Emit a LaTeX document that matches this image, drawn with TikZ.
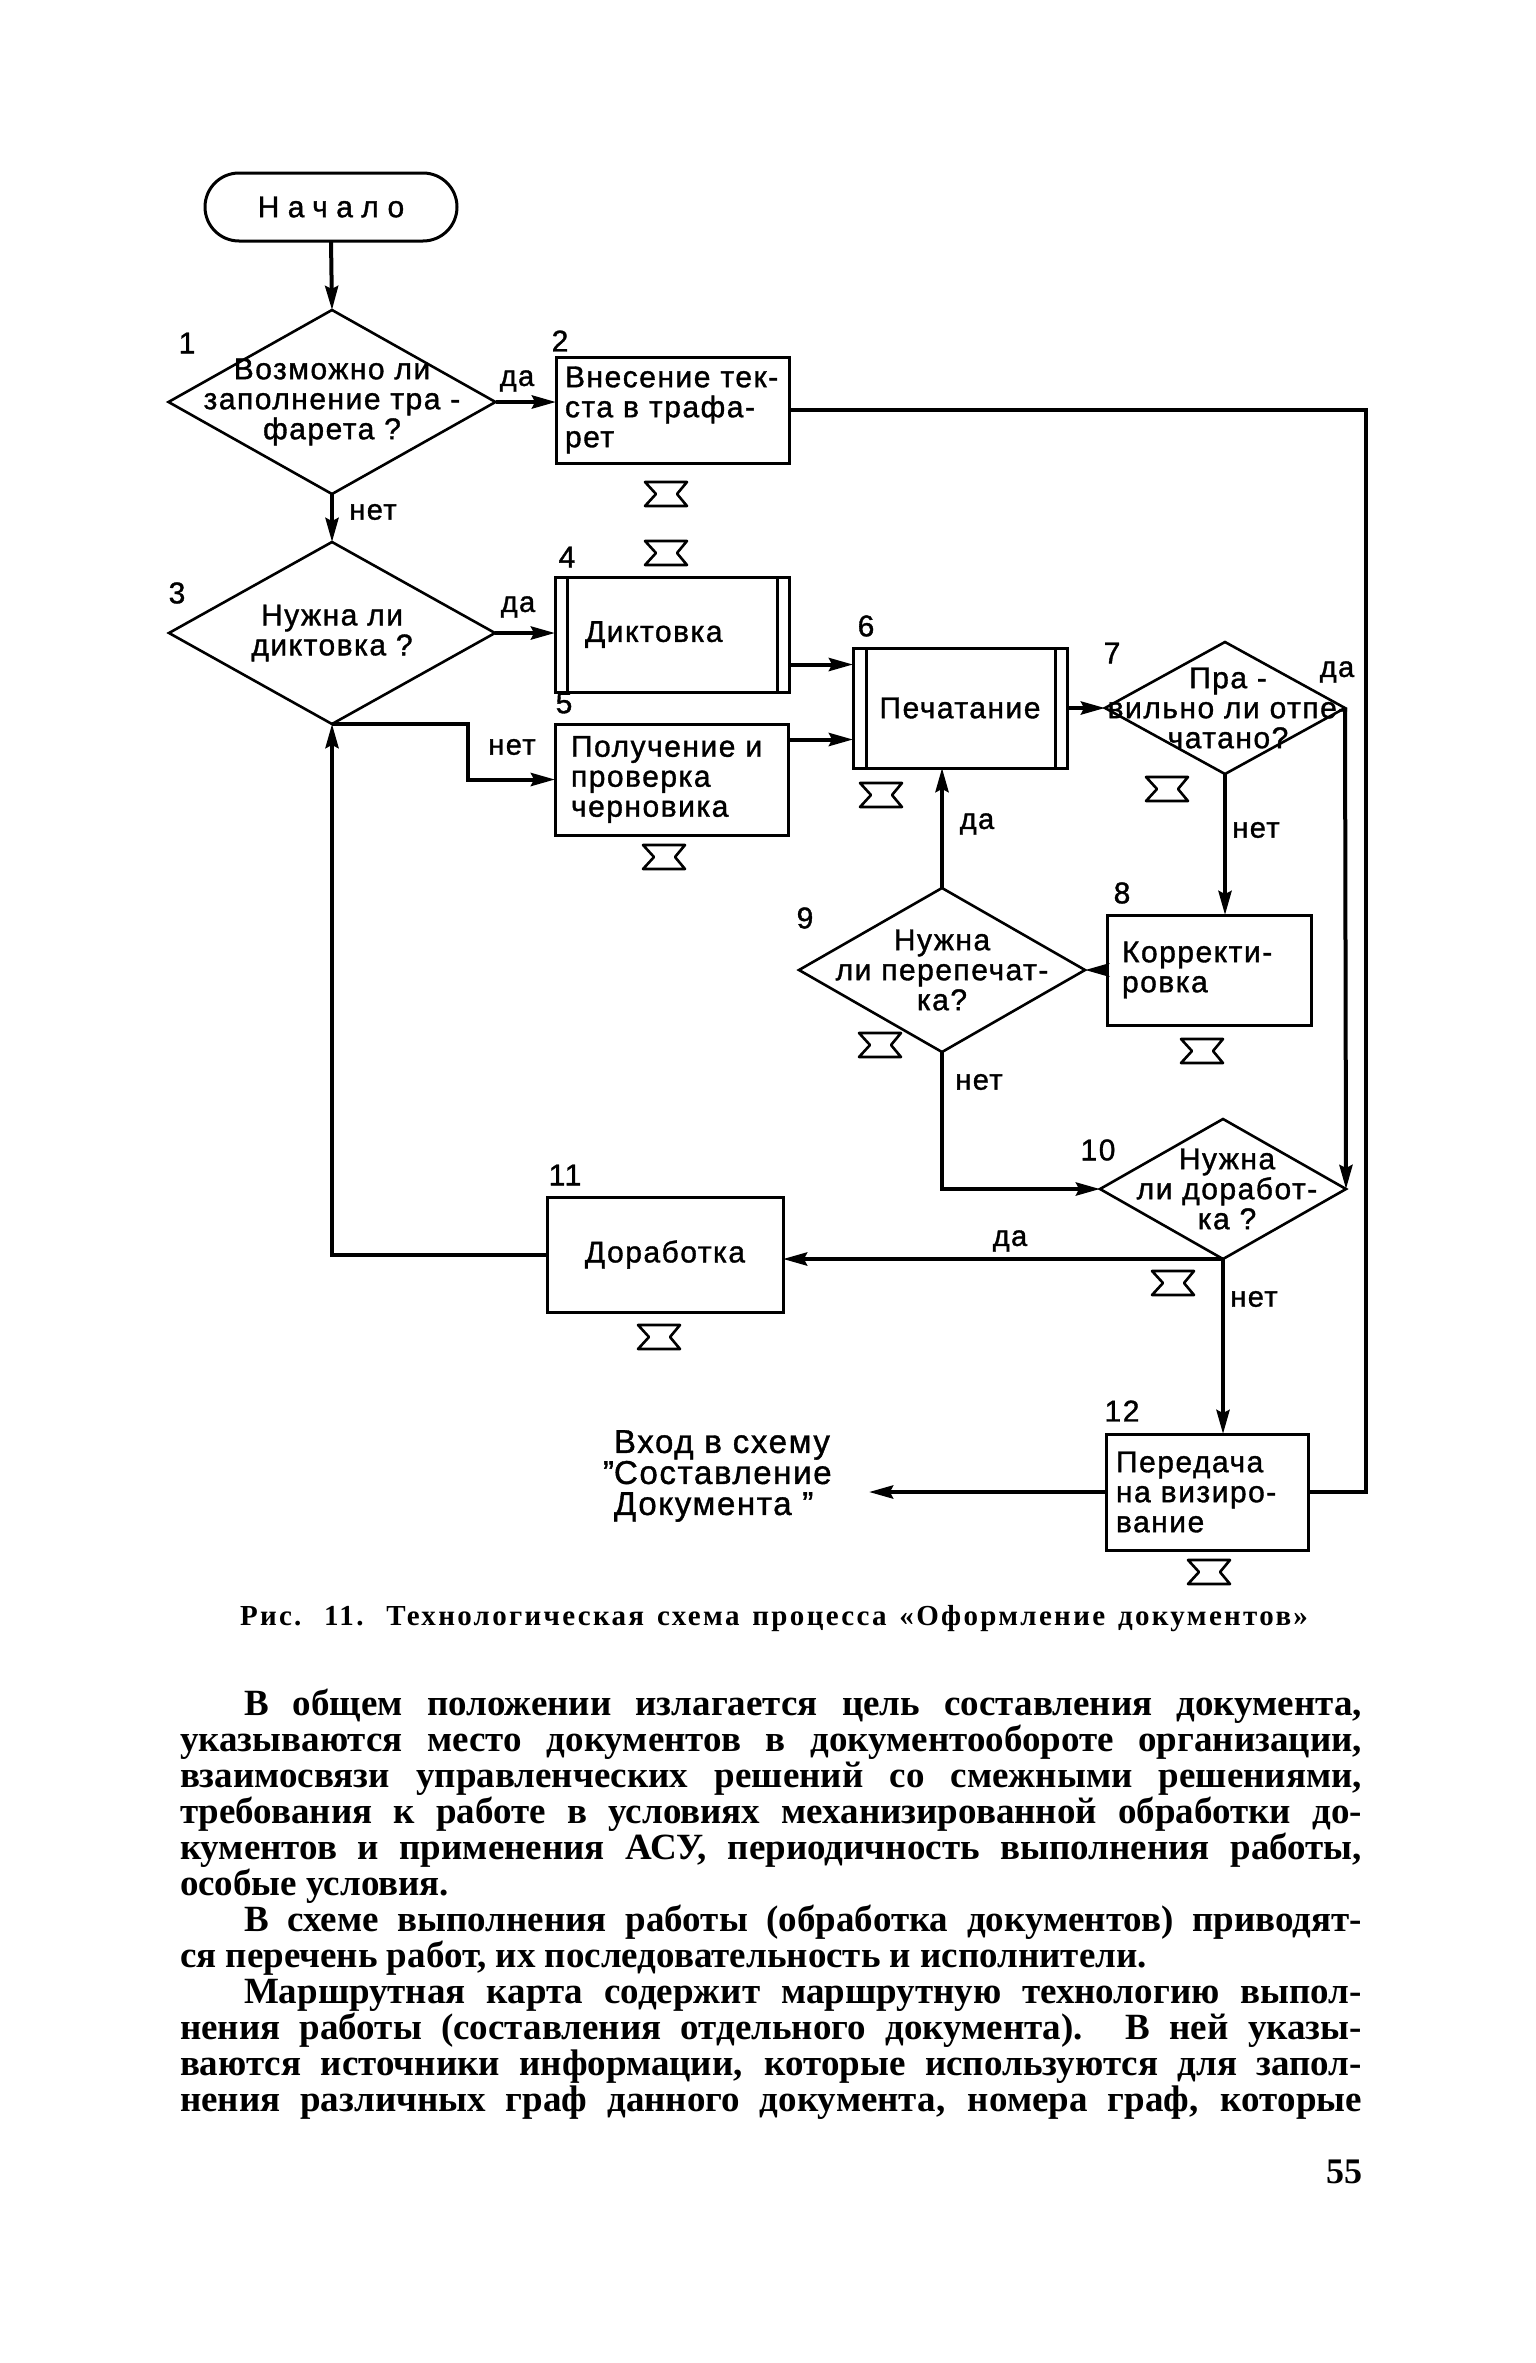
\documentclass[tikz,border=0pt]{standalone}
\usepackage{fontspec}
\setmainfont{Liberation Serif}
\newfontfamily\diagf[LetterSpace=5,FakeBold=1.2]{Liberation Sans}
\newfontfamily\startf[LetterSpace=28,FakeBold=1.2]{Liberation Sans}
\newfontfamily\bodyf{Liberation Serif}
\newfontfamily\capf[LetterSpace=8]{Liberation Serif}
\usetikzlibrary{shapes.geometric,arrows.meta,calc}
\tikzset{
  hglass/.pic={\draw[line width=2.6pt,line join=round]
    (-21,-12) -- (21,-12) -- (11,0) -- (21,12) -- (-21,12) -- (-10,0) -- cycle;}
}
\begin{document}
\begin{tikzpicture}[x=1pt,y=-1pt,
  every node/.style={inner sep=0pt,outer sep=0pt},
  shp/.style={draw,line width=3pt},
  dia/.style={diamond,draw,line width=2.6pt,inner sep=0pt},
  con/.style={line width=4pt},
  arr/.style={con,-{Stealth[length=24pt,width=13pt,inset=3pt]}},
  dtext/.style={font=\diagf\fontsize{30}{30}\selectfont},
  num/.style={font=\diagf\fontsize{30}{30}\selectfont},
  yn/.style={font=\diagf\fontsize{29}{30}\selectfont},
  body/.style={anchor=base west,font=\bodyf\bfseries\fontsize{37}{36}\selectfont},
]
\fill[white] (0,0) rectangle (1536,2363);
\useasboundingbox (0,0) rectangle (1536,2363);

% ---- shapes ----
\node[shp,rounded corners=34pt,minimum width=252pt,minimum height=68pt,
      font=\startf\fontsize{30}{30}\selectfont] (start) at (331,207) {Начало};

\node[dia,minimum width=327pt,minimum height=184pt,
      label={[dtext,align=center]center:Возможно ли\\заполнение тра -\\фарета ?}] (d1) at (332,402) {};
\node[shp,minimum width=233pt,minimum height=106pt,inner xsep=9pt,text width=215pt,
      align=left,dtext] (b2) at (672.5,410) {\mbox{Внесение тек-}\\\mbox{ста в трафа-}\\рет};

\node[dia,minimum width=326pt,minimum height=182pt,
      label={[dtext,align=center]center:Нужна ли\\диктовка ?}] (d3) at (332,633) {};
\node[shp,minimum width=234pt,minimum height=115pt,inner xsep=30pt,text width=174pt,
      align=left,dtext] (b4) at (672,634.5) {Диктовка};
\draw[line width=3pt] ([xshift=12pt]b4.north west) -- ([xshift=12pt]b4.south west);
\draw[line width=3pt] ([xshift=-12pt]b4.north east) -- ([xshift=-12pt]b4.south east);

\node[shp,minimum width=233pt,minimum height=111pt,inner xsep=16pt,text width=201pt,
      align=left,dtext] (b5) at (671.5,779.5) {\mbox{Получение и}\\проверка\\черновика};

\node[shp,minimum width=214pt,minimum height=120pt,align=center,dtext] (b6) at (960,708) {Печатание};
\draw[line width=3pt] ([xshift=13pt]b6.north west) -- ([xshift=13pt]b6.south west);
\draw[line width=3pt] ([xshift=-12pt]b6.north east) -- ([xshift=-12pt]b6.south east);

\node[dia,minimum width=240pt,minimum height=132pt,
      label={[dtext,align=center,xshift=3pt]center:Пра -\\вильно ли отпе-\\чатано?}] (d7) at (1225,708) {};

\node[shp,minimum width=204pt,minimum height=110pt,inner xsep=15pt,text width=174pt,
      align=left,dtext] (b8) at (1209,970) {\mbox{Корректи-}\\ровка};

\node[dia,minimum width=286pt,minimum height=164pt,
      label={[dtext,align=center]center:Нужна\\ли перепечат-\\ка?}] (d9) at (942,970) {};

\node[dia,minimum width=246pt,minimum height=140pt,
      label={[dtext,align=center,xshift=4pt]center:Нужна\\ли доработ-\\ка ?}] (d10) at (1223,1189) {};

\node[shp,minimum width=236pt,minimum height=115pt,align=center,dtext] (b11) at (665,1254.5) {Доработка};

\node[shp,minimum width=202pt,minimum height=116pt,inner xsep=10pt,text width=182pt,
      align=left,dtext] (b12) at (1207,1492) {Передача\\\mbox{на визиро-}\\вание};

\node[align=left,font=\diagf\fontsize{33}{31}\selectfont,anchor=west] (exittext) at (614,1476)
  {Вход в схему\\\llap{”}Составление\\Документа ”};

\coordinate (exit) at (869,1492);
\coordinate (fr) at (1366,405);

% ---- numbers ----
\node[num] (n1) at (187,343) {1};
\node[num] (n2) at (560,341) {2};
\node[num] (n3) at (177,593) {3};
\node[num] (n4) at (567,557) {4};
\node[num] (n5) at (564,703) {5};
\node[num] (n6) at (866,626) {6};
\node[num] (n7) at (1112,653) {7};
\node[num] (n8) at (1122,893) {8};
\node[num] (n9) at (805,918) {9};
\node[num] (n10) at (1098,1150) {10};
\node[num] (n11) at (565,1175) {11};
\node[num] (n12) at (1122,1411) {12};

% ---- yes / no labels ----
\node[yn] (y1) at (517,381) {да};
\node[yn] (no1) at (373,512) {нет};
\node[yn] (y3) at (518,607) {да};
\node[yn] (no3) at (512,747) {нет};
\node[yn] (y7) at (1337,672) {да};
\node[yn] (no7) at (1256,830) {нет};
\node[yn] (y9) at (977,824) {да};
\node[yn] (no9) at (979,1082) {нет};
\node[yn] (y10) at (1010,1241) {да};
\node[yn] (no10) at (1254,1299) {нет};

% ---- hourglass marks ----
\foreach \p in {(666,494),(666,553),(664,857),(881,795),(1167,789),(880,1045),(1202,1051),(1173,1283),(659,1337),(1209,1572)}
  \pic at \p {hglass};

% ---- connectors ----
\draw[arr] (start.south) -- (d1.north);
\draw[arr] (d1.east) -- (d1.east -| b2.west);
\draw[arr] (d1.south) -- (d3.north);
\draw[arr] (d3.east) -- (d3.east -| b4.west);
\draw[arr] (d3.south) -- (468,724) |- (b5.west);
\draw[arr] ([yshift=-30pt]b4.east) -- ([yshift=-30pt]b4.east -| b6.west);
\draw[arr] ([yshift=40pt]b5.east) -- ([yshift=40pt]b5.east -| b6.west);
\draw[arr] (b6.east) -- (b6.east -| d7.west);
\draw[arr] (d7.south) -- (d7.south |- b8.north);
\draw[arr] (b8.west) -- (b8.west -| d9.east);
\draw[arr] (d9.north) -- (d9.north |- b6.south);
\draw[arr] (d9.south) |- (d10.west);
\draw[arr] (d7.east) -- (d10.east);
\draw[arr] (d10.south) -- (d10.south -| b11.east);
\draw[arr] (d10.south) -- (d10.south |- b12.north);
\draw[arr] (b11.west) -| (d3.south);
\draw[arr] (b12.west) -- (exit);
\draw[con] (b2.east) -- (b2.east -| fr) -- (b12.east -| fr) -- (b12.east);

% ---- caption ----
\node[anchor=base west,font=\capf\bfseries\fontsize{29}{28}\selectfont] (cap) at (240,1625)
  {\makebox[1068pt][s]{Рис. 11. Технологическая схема процесса «Оформление документов»}};

% ---- body text ----
\node[body] (t1) at (244,1715) {\makebox[1118pt][s]{В общем положении излагается цель составления документа,}};
\node[body] (t2) at (180,1751) {\makebox[1182pt][s]{указываются место документов в документообороте организации,}};
\node[body] (t3) at (180,1787) {\makebox[1182pt][s]{взаимосвязи управленческих решений со смежными решениями,}};
\node[body] (t4) at (180,1823) {\makebox[1182pt][s]{требования к работе в условиях механизированной обработки до-}};
\node[body] (t5) at (180,1859) {\makebox[1182pt][s]{кументов и применения АСУ, периодичность выполнения работы,}};
\node[body] (t6) at (180,1895) {особые условия.};
\node[body] (t7) at (244,1931) {\makebox[1118pt][s]{В схеме выполнения работы (обработка документов) приводят-}};
\node[body] (t8) at (180,1967) {ся перечень работ, их последовательность и исполнители.};
\node[body] (t9) at (244,2003) {\makebox[1118pt][s]{Маршрутная карта содержит маршрутную технологию выпол-}};
\node[body] (t10) at (180,2039) {\makebox[1182pt][s]{нения работы (составления отдельного документа). В ней указы-}};
\node[body] (t11) at (180,2075) {\makebox[1182pt][s]{ваются источники информации, которые используются для запол-}};
\node[body] (t12) at (180,2111) {\makebox[1182pt][s]{нения различных граф данного документа, номера граф, которые}};

\node[anchor=base east,font=\bodyf\bfseries\fontsize{36}{36}\selectfont] (pg) at (1362,2183) {55};
\end{tikzpicture}
\end{document}
